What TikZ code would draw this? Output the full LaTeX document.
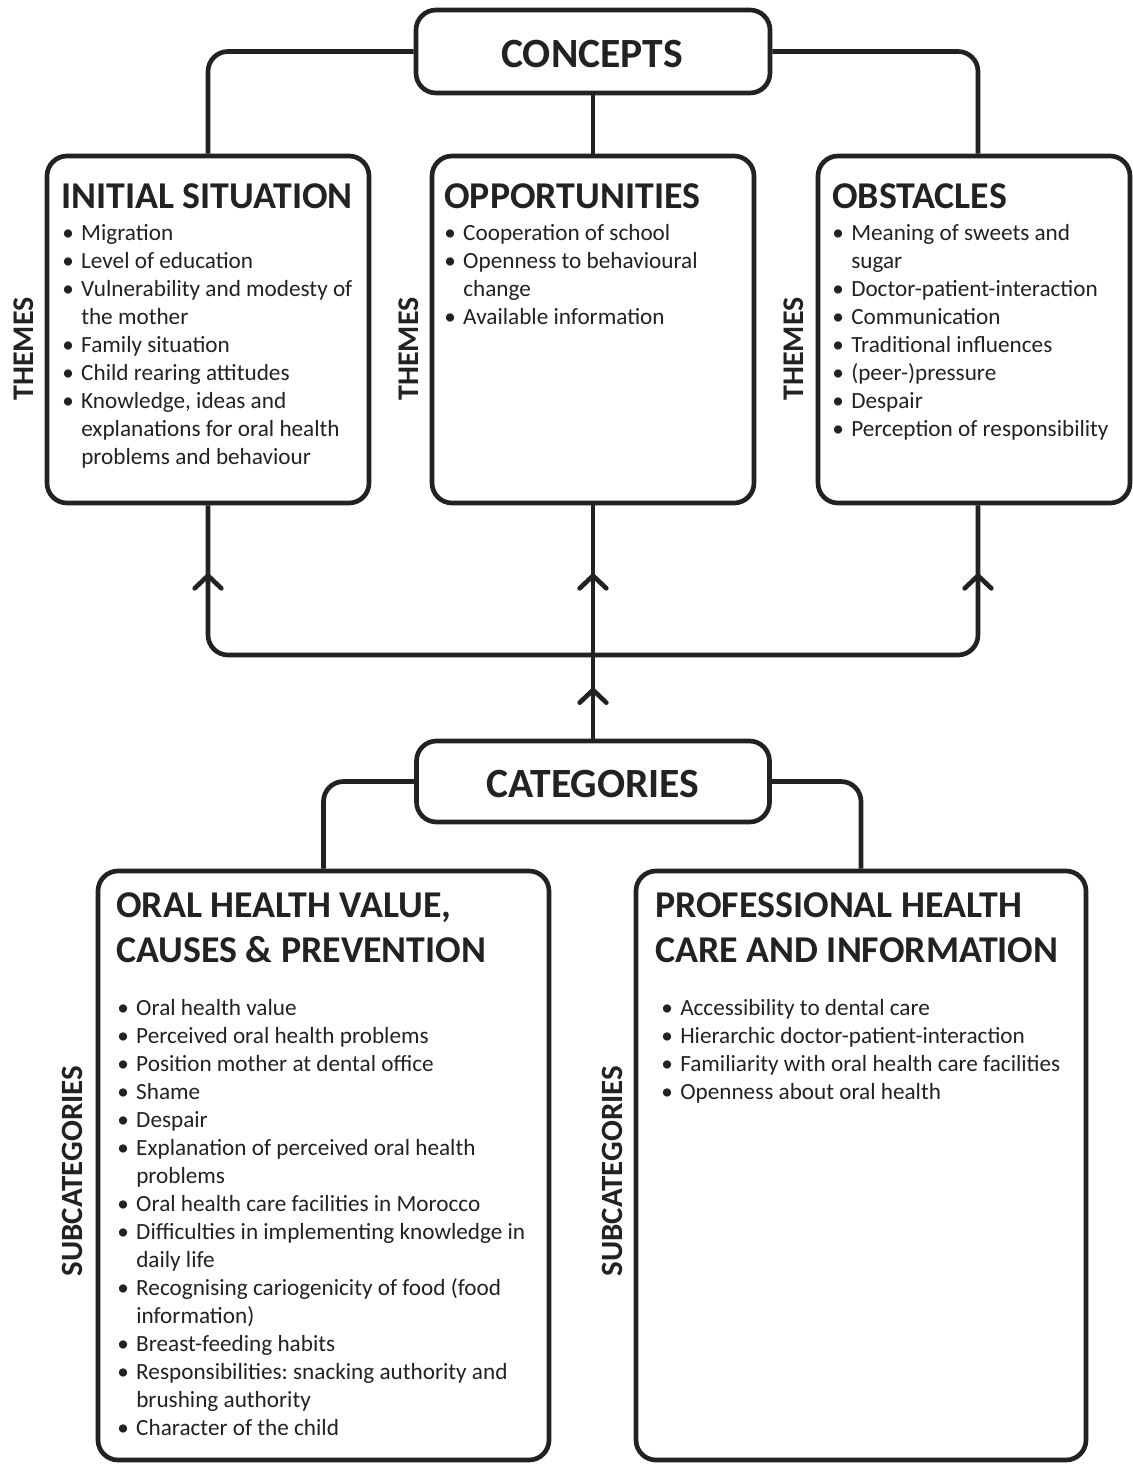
\documentclass[tikz,border=0pt]{standalone}
\usepackage{fontspec}
\setmainfont{Carlito}
\usetikzlibrary{arrows.meta,decorations.markings}
\definecolor{ink}{RGB}{34,34,34}
\frenchspacing
\newcommand{\itm}{\makebox[14.25pt][l]{\textbullet}}
\newcommand{\cnt}{\hspace*{14.25pt}}
\tikzset{
	box/.style={draw=ink, line width=3.5pt, rounded corners=15pt, inner sep=0pt},
	link/.style={draw=ink, line width=3.5pt, rounded corners=15pt},
	head/.style={font=\fontsize{31.2}{37}\selectfont\bfseries, text=ink},
	title/.style={font=\fontsize{28.4}{33.75}\selectfont\bfseries, text=ink, anchor=base west, inner sep=0pt},
	items/.style={font=\fontsize{17.4}{21}\selectfont, text=ink, anchor=base west, inner sep=0pt},
	side/.style={font=\fontsize{22.5}{27}\selectfont\bfseries, text=ink, rotate=90, inner sep=0pt},
	chev/.tip={Straight Barb[length=9.5pt,width=20pt,round]},
}
\begin{document}
\begin{tikzpicture}[x=0.75pt, y=-0.75pt]
	\useasboundingbox[fill=white] (0,0) rectangle (1132,1464);

	%concepts and themes
	\node[box, minimum width=265.5pt, minimum height=62.25pt] (concepts) at (593,51.5) {};
	\node[head] (conceptsT) at (592,54) {CONCEPTS};
	\node[box, minimum width=241.5pt, minimum height=260.25pt] (init) at (208,329.5) {};
	\node[box, minimum width=241.5pt, minimum height=260.25pt] (opp) at (593,329.5) {};
	\node[box, minimum width=234pt, minimum height=260.25pt] (obst) at (974,329.5) {};

	\node[title] (initT) at (61,208) {INITIAL SITUATION};
	\node[title] (oppT) at (444,208) {OPPORTUNITIES};
	\node[title] (obstT) at (832,208) {OBSTACLES};

	\node[items] (initL) at (62,240) {\begin{tabular}[t]{@{}l@{}}
		\itm Migration\\
		\itm Level of education\\
		\itm Vulnerability and modesty of\\
		\cnt the mother\\
		\itm Family situation\\
		\itm Child rearing attitudes\\
		\itm Knowledge, ideas and\\
		\cnt explanations for oral health\\
		\cnt problems and behaviour
	\end{tabular}};
	\node[items] (oppL) at (444,240) {\begin{tabular}[t]{@{}l@{}}
		\itm Cooperation of school\\
		\itm Openness to behavioural\\
		\cnt change\\
		\itm Available information
	\end{tabular}};
	\node[items] (obstL) at (832,240) {\begin{tabular}[t]{@{}l@{}}
		\itm Meaning of sweets and\\
		\cnt sugar\\
		\itm Doctor-patient-interaction\\
		\itm Communication\\
		\itm Traditional influences\\
		\itm (peer-)pressure\\
		\itm Despair\\
		\itm Perception of responsibility
	\end{tabular}};

	\node[side] (themesA) at (24,349) {THEMES};
	\node[side] (themesB) at (409,349) {THEMES};
	\node[side] (themesC) at (794,349) {THEMES};

	\draw[link] (concepts.west) -| (init.north);
	\draw[link] (concepts.east) -| ([xshift=3pt]obst.north);
	\draw[link] (concepts.south) -- (opp.north);

	%categories and subcategories
	\node[box, minimum width=264.75pt, minimum height=60.75pt] (cat) at (593,781.5) {};
	\node[head] (catT) at (593,784) {CATEGORIES};
	\node[box, minimum width=338.25pt, minimum height=441.75pt] (oral) at (323.5,1165.5) {};
	\node[box, minimum width=337.5pt, minimum height=441.75pt] (prof) at (861,1165.5) {};

	\node[title] (oralT) at (116,917) {\begin{tabular}[t]{@{}l@{}}
		ORAL HEALTH VALUE,\\
		CAUSES \& PREVENTION
	\end{tabular}};
	\node[title] (profT) at (655,917) {\begin{tabular}[t]{@{}l@{}}
		PROFESSIONAL HEALTH\\
		CARE AND INFORMATION
	\end{tabular}};

	\node[items] (oralL) at (117,1015) {\begin{tabular}[t]{@{}l@{}}
		\itm Oral health value\\
		\itm Perceived oral health problems\\
		\itm Position mother at dental office\\
		\itm Shame\\
		\itm Despair\\
		\itm Explanation of perceived oral health\\
		\cnt problems\\
		\itm Oral health care facilities in Morocco\\
		\itm Difficulties in implementing knowledge in\\
		\cnt daily life\\
		\itm Recognising cariogenicity of food (food\\
		\cnt information)\\
		\itm Breast-feeding habits\\
		\itm Responsibilities: snacking authority and\\
		\cnt brushing authority\\
		\itm Character of the child
	\end{tabular}};
	\node[items] (profL) at (661,1015) {\begin{tabular}[t]{@{}l@{}}
		\itm Accessibility to dental care\\
		\itm Hierarchic doctor-patient-interaction\\
		\itm Familiarity with oral health care facilities\\
		\itm Openness about oral health
	\end{tabular}};

	\node[side, font=\fontsize{23.2}{27}\selectfont\bfseries] (subA) at (72,1171) {SUBCATEGORIES};
	\node[side, font=\fontsize{23.2}{27}\selectfont\bfseries] (subB) at (612,1171) {SUBCATEGORIES};

	\draw[link] (cat.west) -| (oral.north);
	\draw[link] (cat.east) -| (prof.north);

	%categories feed the concepts
	\coordinate (junc) at (593,655);
	\draw[link, postaction={decorate}, decoration={markings,
		mark=at position 38.25pt with {\arrow{chev}},
		mark=at position -51pt with {\arrow{chev}}}] (cat.north) -- (opp.south);
	\draw[link, postaction={decorate}, decoration={markings,
		mark=at position -51pt with {\arrow{chev}}}] (junc) -| (init.south);
	\draw[link, postaction={decorate}, decoration={markings,
		mark=at position -51pt with {\arrow{chev}}}] (junc) -| ([xshift=3pt]obst.south);
\end{tikzpicture}
\end{document}
